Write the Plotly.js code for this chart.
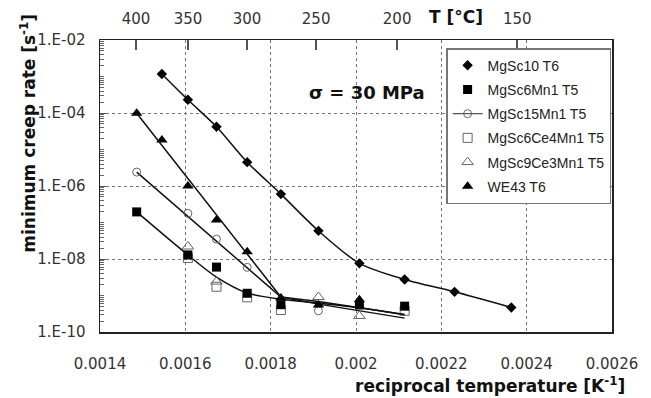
<!DOCTYPE html>
<html><head><meta charset="utf-8">
<script src="https://cdn.plot.ly/plotly-3.0.1.min.js"></script>
<style>html,body{margin:0;padding:0;background:#fff;} #chart{width:651px;height:398px;}</style>
</head><body><div id="chart"></div>
<script>
// ---- data (reciprocal temperature [1/K], minimum creep rate [1/s]) ----
const mgsc10_x = [0.001545, 0.001606, 0.001673, 0.001745, 0.001824, 0.001912, 0.002008, 0.002114, 0.002231, 0.002364];
const mgsc10_y = [1.17e-3, 2.3e-4, 4.2e-5, 4.5e-6, 6.0e-7, 5.9e-8, 7.6e-9, 2.75e-9, 1.26e-9, 4.7e-10];

const mgsc6mn1_x = [0.001486, 0.001606, 0.001673, 0.001745, 0.001824, 0.002008, 0.002114];
const mgsc6mn1_y = [1.95e-7, 1.29e-8, 6.0e-9, 1.15e-9, 5.6e-10, 5.5e-10, 5.1e-10];

const mgsc15mn1_x = [0.001486, 0.001606, 0.001673, 0.001745, 0.001912];
const mgsc15mn1_y = [2.4e-6, 1.78e-7, 3.5e-8, 5.9e-9, 3.8e-10];

const mgsc6ce4mn1_x = [0.001606, 0.001673, 0.001745, 0.001824, 0.002114];
const mgsc6ce4mn1_y = [1.07e-8, 1.74e-9, 8.9e-10, 4.0e-10, 3.8e-10];

const mgsc9ce3mn1_x = [0.001606, 0.001673, 0.001912, 0.002008];
const mgsc9ce3mn1_y = [2.2e-8, 2.4e-9, 9.1e-10, 2.75e-10];

const we43_x = [0.001486, 0.001545, 0.001606, 0.001673, 0.001745, 0.001824, 0.001912, 0.002008];
const we43_y = [9.8e-5, 1.82e-5, 1.0e-6, 1.17e-7, 1.58e-8, 8.5e-10, 5.5e-10, 7.6e-10];

// fitted curves drawn in the figure
const fit_we43_x = [0.001486, 0.001824, 0.001912, 0.002008, 0.002114];
const fit_we43_y = [9.8e-5, 9.1e-10, 6.8e-10, 4.7e-10, 3.0e-10];
const fit_mgsc15mn1_x = [0.001486, 0.001824, 0.001912, 0.002008, 0.002114];
const fit_mgsc15mn1_y = [2.4e-6, 9.1e-10, 5.8e-10, 3.8e-10, 2.4e-10];
const fit_mgsc6mn1_x = [0.001486, 0.001606, 0.001673, 0.001745, 0.001824, 0.001912, 0.002008, 0.002114];
const fit_mgsc6mn1_y = [1.95e-7, 1.29e-8, 3.2e-9, 1.17e-9, 7.9e-10, 6.2e-10, 4.6e-10, 2.95e-10];

// axes
const xTickVals = [0.0014, 0.0016, 0.0018, 0.0020, 0.0022, 0.0024, 0.0026];
const xTickText = ['0.0014', '0.0016', '0.0018', '0.002', '0.0022', '0.0024', '0.0026'];
const yTickVals = [1e-10, 1e-8, 1e-6, 1e-4, 1e-2];
const yTickText = ['1.E-10', '1.E-08', '1.E-06', '1.E-04', '1.E-02'];
const topTickVals = [0.0014844, 0.0016063, 0.0017447, 0.0019065, 0.0020964, 0.0023778];
const topTickText = ['400', '350', '300', '250', '200', '150'];

// ---- build ----
function gapped(arr) { const out = []; arr.forEach(v => { out.push(v); out.push(null); }); return out; }
// log minor ticks in every decade of the axis range
const minorVals = [];
for (let e = -10; e < -2; e++) { for (let m = 1; m <= 9; m++) { if (m === 1 && e % 2 === 0) continue; minorVals.push(m * Math.pow(10, e)); } }

const lineStyle = {color: '#111', width: 1.5};
const traces = [
  {x: mgsc10_x, y: mgsc10_y, xaxis: 'x2', mode: 'lines', line: Object.assign({shape: 'spline', smoothing: 0.8}, lineStyle), showlegend: false},
  {x: fit_mgsc6mn1_x, y: fit_mgsc6mn1_y, mode: 'lines', line: Object.assign({shape: 'spline', smoothing: 0.8}, lineStyle), showlegend: false},
  {x: fit_we43_x, y: fit_we43_y, yaxis: 'y2', mode: 'lines', line: lineStyle, showlegend: false},
  {x: fit_mgsc15mn1_x, y: fit_mgsc15mn1_y, mode: 'lines', line: lineStyle, showlegend: false},
  {name: 'MgSc6Ce4Mn1 T5', legendrank: 4, legendgroup: 'g4', x: mgsc6ce4mn1_x, y: mgsc6ce4mn1_y, mode: 'markers',
   marker: {symbol: 'square-open', size: 9, color: '#666', line: {width: 1}}},
  {name: 'MgSc9Ce3Mn1 T5', legendrank: 5, legendgroup: 'g5', x: mgsc9ce3mn1_x, y: mgsc9ce3mn1_y, mode: 'markers',
   marker: {symbol: 'triangle-up-open', size: 10, color: '#666', line: {width: 1}}},
  {name: 'MgSc15Mn1 T5', legendrank: 3, legendgroup: 'g3', x: gapped(mgsc15mn1_x), y: gapped(mgsc15mn1_y), mode: 'lines+markers',
   connectgaps: false, line: {color: '#555', width: 1.2},
   marker: {symbol: 'circle-open', size: 8, color: '#666', line: {width: 1}}},
  {name: 'MgSc10 T6', legendrank: 1, legendgroup: 'g1', x: mgsc10_x, y: mgsc10_y, mode: 'markers',
   marker: {symbol: 'diamond', size: 8, color: '#000'}},
  {name: 'MgSc6Mn1 T5', legendrank: 2, legendgroup: 'g2', x: mgsc6mn1_x, y: mgsc6mn1_y, mode: 'markers',
   marker: {symbol: 'square', size: 9, color: '#000'}},
  {name: 'WE43 T6', legendrank: 6, legendgroup: 'g6', x: we43_x, y: we43_y, mode: 'markers',
   marker: {symbol: 'triangle-up', size: 10, color: '#000'}}
];

const layout = {
  width: 651, height: 398,
  margin: {l: 100, r: 39, t: 40, b: 66},
  paper_bgcolor: '#fff', plot_bgcolor: '#fff',
  font: {family: 'DejaVu Sans, sans-serif', size: 15, color: '#333'},
  xaxis: {
    range: [0.0014, 0.0026], tickmode: 'array', tickvals: xTickVals, ticktext: xTickText,
    ticks: '', showgrid: true, gridcolor: '#777', griddash: 'dot', gridwidth: 1,
    showline: true, linecolor: '#222', linewidth: 1.5, mirror: true, zeroline: false,
    ticklabelstandoff: 17
  },
  xaxis2: {
    overlaying: 'x', side: 'top', range: [0.0014, 0.0026], tickmode: 'array',
    tickvals: topTickVals, ticktext: topTickText, ticks: 'inside', ticklen: 10, tickwidth: 1.5,
    tickcolor: '#555', showgrid: false, showline: false, zeroline: false, ticklabelstandoff: 12
  },
  yaxis: {
    type: 'log', range: [-10, -2], tickmode: 'array', tickvals: yTickVals, ticktext: yTickText,
    ticks: 'inside', ticklen: 6, tickcolor: '#555',
    showgrid: true, gridcolor: '#777', griddash: 'dot', gridwidth: 1,
    showline: true, linecolor: '#222', linewidth: 1.5, mirror: true, zeroline: false,
    ticklabelstandoff: 10
  },
  yaxis2: {
    overlaying: 'y', side: 'left', type: 'log', range: [-10, -2], tickmode: 'array', tickvals: minorVals,
    showticklabels: false, ticks: 'inside', ticklen: 4, tickwidth: 1, tickcolor: '#666',
    showgrid: false, showline: false, zeroline: false
  },
  legend: {
    x: 0.676, y: 0.972, xanchor: 'left', yanchor: 'top',
    bgcolor: '#fff', bordercolor: '#777', borderwidth: 1.5,
    font: {family: 'Liberation Sans, Arial, sans-serif', size: 14, color: '#222'},
    itemwidth: 30, tracegroupgap: 3, traceorder: 'grouped'
  },
  showlegend: true,
  annotations: [
    {text: '\u03c3 = 30 MPa', xref: 'paper', yref: 'paper', x: 0.5215, y: 0.819, showarrow: false,
     xanchor: 'center', yanchor: 'middle', font: {family: 'DejaVu Sans', size: 18, color: '#111', weight: 'bold'}},
    {text: 'T [\u00b0C]', xref: 'paper', yref: 'paper', x: 0.696, y: 1.078, showarrow: false,
     xanchor: 'center', yanchor: 'middle', font: {family: 'DejaVu Sans', size: 17, color: '#111', weight: 'bold'}},
    {text: 'reciprocal temperature [K<sup>-1</sup>]', xref: 'paper', yref: 'paper', x: 1.029, y: -0.181,
     showarrow: false, xanchor: 'right', yanchor: 'middle',
     font: {family: 'DejaVu Sans', size: 17, color: '#111', weight: 'bold'}},
    {text: 'minimum creep rate [s<sup>-1</sup>]', xref: 'paper', yref: 'paper', x: -0.1406, y: 0.679,
     textangle: -90, showarrow: false, xanchor: 'center', yanchor: 'middle',
     font: {family: 'DejaVu Sans', size: 17, color: '#111', weight: 'bold'}}
  ]
};

Plotly.newPlot('chart', traces, layout, {staticPlot: true, displayModeBar: false});
</script>
</body></html>
